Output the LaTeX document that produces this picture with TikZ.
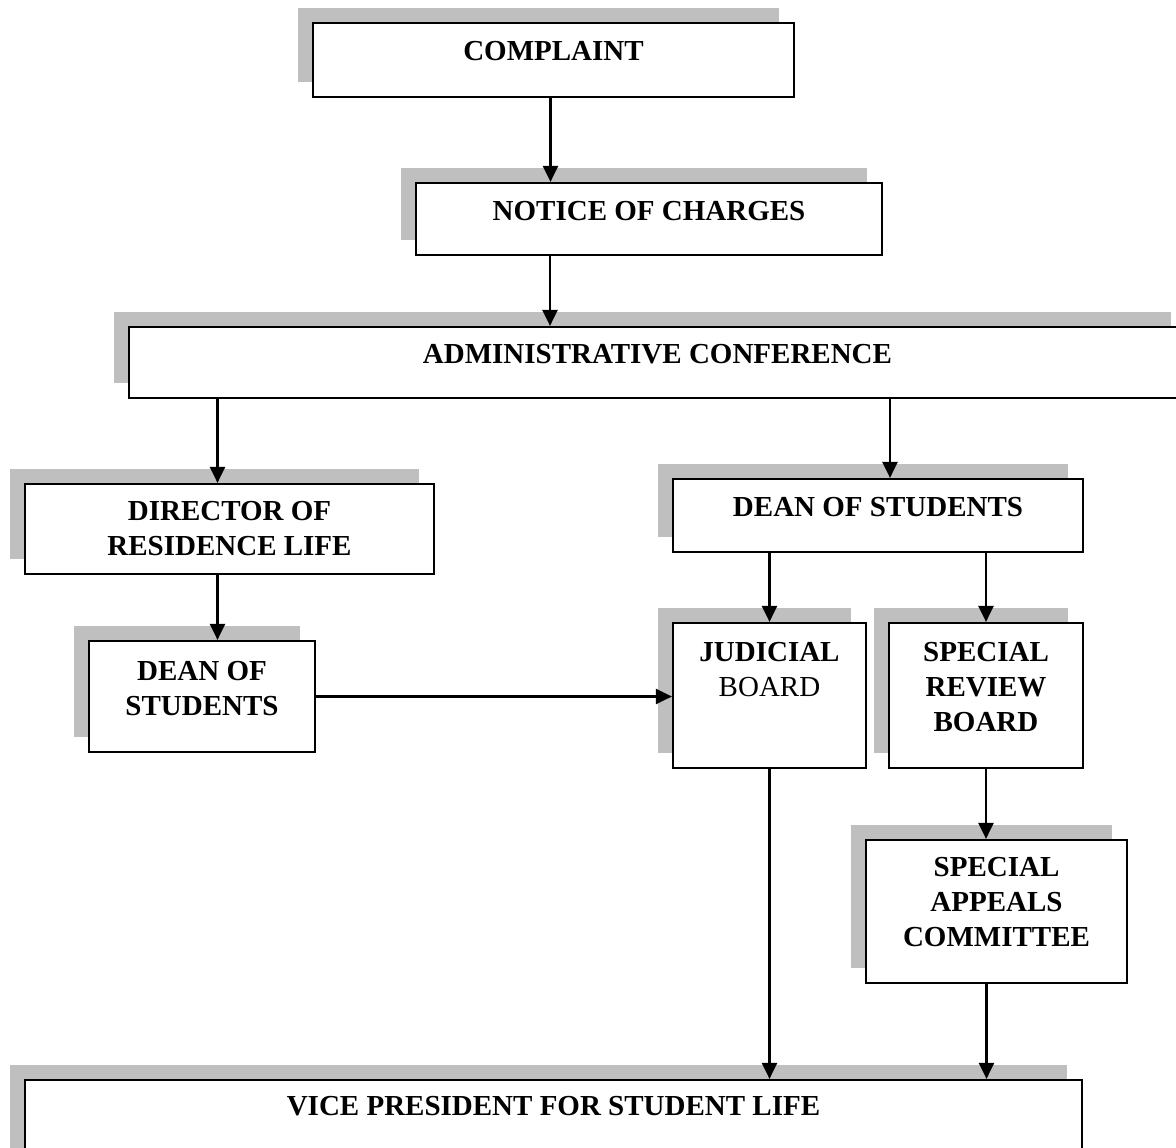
\documentclass[tikz,border=0pt]{standalone}
\usepackage{fontspec}
\setmainfont{Liberation Serif}
\usetikzlibrary{positioning,shadows,arrows.meta}
\tikzset{
	box/.style={draw, line width=2.2pt, fill=white, inner sep=0pt,
			drop shadow={shadow xshift=-15pt, shadow yshift=15pt, fill=black!25, opacity=1}},
	lbl/.style={inner sep=0pt, align=center, font=\fontsize{29}{35}\selectfont\bfseries},
	arr/.style={line width=2.4pt, -{Triangle[length=16pt,width=15pt]}}
}
\begin{document}
\begin{tikzpicture}[x=1pt,y=-1pt]
	\useasboundingbox (0,0) rectangle (1176,1148);
	\fill[white] (0,0) rectangle (1176,1148);
	% boxes
	\node[box, minimum width=481pt, minimum height=74pt] (cmp) at (553.5,60) {};
	\node[box, minimum width=466pt, minimum height=72pt] (noc) at (649,219) {};
	\node[box, minimum width=1057pt, minimum height=71pt] (adm) at (657.5,362.5) {};
	\node[box, minimum width=409pt, minimum height=90pt] (dir) at (229.5,529) {};
	\node[box, minimum width=410pt, minimum height=73pt] (dsr) at (878,515.5) {};
	\node[box, minimum width=226pt, minimum height=111pt] (dsl) at (202,696.5) {};
	\node[box, minimum width=193pt, minimum height=145pt] (jb) at (769.5,695.5) {};
	\node[box, minimum width=194pt, minimum height=145pt] (srb) at (986,695.5) {};
	\node[box, minimum width=261pt, minimum height=143pt] (sac) at (996.5,911.5) {};
	\node[box, minimum width=1057pt, minimum height=90pt] (vp) at (553.5,1125) {};
	% texts
	\node[lbl, below=19pt of cmp.north] (cmp-t) {COMPLAINT};
	\node[lbl, below=19pt of noc.north] (noc-t) {NOTICE OF CHARGES};
	\node[lbl, below=18pt of adm.north] (adm-t) {ADMINISTRATIVE CONFERENCE};
	\node[lbl, below=18pt of dir.north] (dir-t) {DIRECTOR OF\\RESIDENCE LIFE};
	\node[lbl, below=19pt of dsr.north] (dsr-t) {DEAN OF STUDENTS};
	\node[lbl, below=21pt of dsl.north] (dsl-t) {DEAN OF\\STUDENTS};
	\node[lbl, below=20pt of jb.north] (jb-t) {JUDICIAL\\\mdseries BOARD};
	\node[lbl, below=20pt of srb.north] (srb-t) {SPECIAL\\REVIEW\\BOARD};
	\node[lbl, below=18pt of sac.north] (sac-t) {SPECIAL\\APPEALS\\COMMITTEE};
	\node[lbl, below=17pt of vp.north] (vp-t) {VICE PRESIDENT FOR STUDENT LIFE};
	% arrows
	\draw[arr] ([xshift=-3pt]cmp.south) -- ([xshift=-3pt]cmp.south |- noc.north);
	\draw[arr] ([xshift=-99pt]noc.south) -- ([xshift=-99pt]noc.south |- adm.north);
	\draw[arr] ([xshift=-12pt]dir.north |- adm.south) -- ([xshift=-12pt]dir.north);
	\draw[arr] ([xshift=12pt]dsr.north |- adm.south) -- ([xshift=12pt]dsr.north);
	\draw[arr] ([xshift=-12pt]dir.south) -- ([xshift=-12pt]dir.south |- dsl.north);
	\draw[arr] (dsl.east) -- (dsl.east -| jb.west);
	\draw[arr] (jb.north |- dsr.south) -- (jb.north);
	\draw[arr] (srb.north |- dsr.south) -- (srb.north);
	\draw[arr] (srb.south) -- (srb.south |- sac.north);
	\draw[arr] (jb.south) -- (jb.south |- vp.north);
	\draw[arr] ([xshift=-10pt]sac.south) -- ([xshift=-10pt]sac.south |- vp.north);
\end{tikzpicture}
\end{document}
